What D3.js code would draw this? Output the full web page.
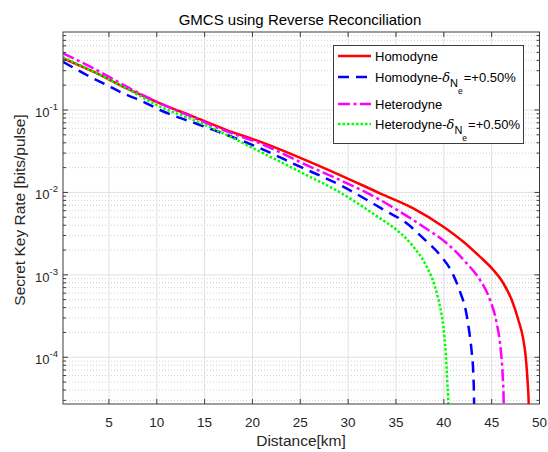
<!DOCTYPE html>
<html>
<head>
<meta charset="utf-8">
<script src="https://cdn.jsdelivr.net/npm/d3@7"></script>
<style>
  body { margin: 0; background: #fff; }
  svg { font-family: "Liberation Sans", Arial, sans-serif; }
</style>
</head>
<body>
<svg id="canvas" width="548" height="452"></svg>
<script>
// values (distance in km, key rate in bits/pulse)
var homoDist = [0.2, 3.37, 6.86, 10.34, 13.82, 17.31, 20.79, 25, 29.15, 33.33, 36.81, 39.95, 42.04, 43.77, 45.17, 46.22, 47.1, 47.79, 48.25, 48.56, 48.77, 48.87, 48.92];
var homoRate = [0.424, 0.292, 0.183, 0.1205, 0.083, 0.0571, 0.0413, 0.0263, 0.01626, 0.00975, 0.00641, 0.00384, 0.00252, 0.00166, 0.001146, 0.000791, 0.000495, 0.000283, 0.000178, 0.0001016, 0.0000483, 0.0000277, 0.00001];

var homoDDist = [0.2, 2.68, 4.77, 6.51, 8.6, 10.34, 14.52, 18.7, 20.44, 24.97, 29.15, 33.85, 36.12, 37.86, 39.6, 40.82, 41.69, 42.32, 42.66, 42.91, 43.08, 43.16, 43.2];
var homoDRate = [0.385, 0.266, 0.201, 0.159, 0.126, 0.1, 0.0658, 0.0433, 0.0359, 0.0205, 0.0123, 0.00603, 0.00422, 0.00277, 0.00174, 0.00109, 0.000625, 0.000357, 0.000204, 0.000117, 0.0000638, 0.0000303, 0.00001];

var hetDist = [0.2, 3.37, 6.86, 10.34, 13.82, 17.31, 20.79, 26.02, 29.15, 33.33, 35.42, 37.86, 40.3, 42.39, 43.78, 44.83, 45.53, 45.95, 46.16, 46.26, 46.3];
var hetRate = [0.488, 0.321, 0.192, 0.1205, 0.0813, 0.055, 0.0394, 0.0205, 0.01416, 0.00813, 0.00583, 0.00384, 0.00242, 0.00138, 0.000867, 0.000495, 0.000258, 0.0001225, 0.0000581, 0.0000277, 0.00001];

var hetDDist = [0.2, 3.37, 6.86, 10.34, 13.82, 17.31, 20.09, 24.97, 29.15, 33.33, 35.07, 36.81, 38.21, 39.08, 39.6, 39.95, 40.2, 40.37, 40.47, 40.52];
var hetDRate = [0.437, 0.292, 0.182, 0.1096, 0.0757, 0.0498, 0.0343, 0.01778, 0.01, 0.00485, 0.0035, 0.0022, 0.001256, 0.000718, 0.000411, 0.000235, 0.0001117, 0.0000483, 0.0000277, 0.00001];

var xTicks = [5, 10, 15, 20, 25, 30, 35, 40, 45, 50];
var yTicks = [-1, -2, -3, -4]; // exponents

var series = [
    {name: "Homodyne", sub: false, x: homoDist, y: homoRate, color: "#ff0000", dash: null},
    {name: "Homodyne-", sub: true, x: homoDDist, y: homoDRate, color: "#0000ff", dash: "11,7"},
    {name: "Heterodyne", sub: false, x: hetDist, y: hetRate, color: "#ff00ff", dash: "12,3.5,3,3.5"},
    {name: "Heterodyne-", sub: true, x: hetDDist, y: hetDRate, color: "#00ff00", dash: "2.5,2"}
];

var svg = d3.select("#canvas");
// plot box (note: "top" is taken by window.top, so prefixed names)
var pLeft = 63, pRight = 539.5, pTop = 32, pBottom = 404;

var x = d3.scaleLinear().domain([0.2, 50]).range([pLeft, pRight]);
var y = d3.scaleLog().domain([2.71e-5, 0.884]).range([pBottom, pTop]);

// grid
var minorY = [];
for (var e = -5; e <= 0; e++) {
    for (var m = 2; m <= 9; m++) {
        var v = m * Math.pow(10, e);
        if (v > y.domain()[0] && v < y.domain()[1]) minorY.push(v);
    }
}
svg.append("g").selectAll("line").data(minorY).enter().append("line")
    .attr("x1", pLeft).attr("x2", pRight)
    .attr("y1", d => y(d)).attr("y2", d => y(d))
    .attr("stroke", "#c4c4c4").attr("stroke-width", 0.8)
    .attr("stroke-dasharray", "1,2");
svg.append("g").selectAll("line").data(yTicks).enter().append("line")
    .attr("x1", pLeft).attr("x2", pRight)
    .attr("y1", d => y(Math.pow(10, d))).attr("y2", d => y(Math.pow(10, d)))
    .attr("stroke", "#e0e0e0").attr("stroke-width", 1);
svg.append("g").selectAll("line").data(xTicks.slice(0, -1)).enter().append("line")
    .attr("x1", d => x(d)).attr("x2", d => x(d))
    .attr("y1", pTop).attr("y2", pBottom)
    .attr("stroke", "#e0e0e0").attr("stroke-width", 1);

// curves
svg.append("clipPath").attr("id", "clip").append("rect")
    .attr("x", pLeft).attr("y", pTop).attr("width", pRight - pLeft).attr("height", pBottom - pTop);

var line = d3.line()
    .x(d => x(d[0]))
    .y(d => y(d[1]))
    .curve(d3.curveMonotoneX);

series.forEach(function (s) {
    var pts = s.x.map((d, i) => [d, s.y[i]]);
    svg.append("path")
        .attr("clip-path", "url(#clip)")
        .attr("d", line(pts))
        .attr("fill", "none")
        .attr("stroke", s.color)
        .attr("stroke-width", 2.5)
        .attr("stroke-dasharray", s.dash);
});

// axes box + ticks (inward, on all four sides)
var axisColor = "#3c3c3c";
svg.append("rect").attr("x", pLeft).attr("y", pTop)
    .attr("width", pRight - pLeft).attr("height", pBottom - pTop)
    .attr("fill", "none").attr("stroke", axisColor).attr("stroke-width", 1);

var ticks = svg.append("g").attr("stroke", axisColor).attr("stroke-width", 1);
xTicks.forEach(function (t) {
    ticks.append("line").attr("x1", x(t)).attr("x2", x(t)).attr("y1", pBottom).attr("y2", pBottom - 5);
    ticks.append("line").attr("x1", x(t)).attr("x2", x(t)).attr("y1", pTop).attr("y2", pTop + 5);
});
yTicks.forEach(function (t) {
    var yy = y(Math.pow(10, t));
    ticks.append("line").attr("x1", pLeft).attr("x2", pLeft + 5).attr("y1", yy).attr("y2", yy);
    ticks.append("line").attr("x1", pRight).attr("x2", pRight - 5).attr("y1", yy).attr("y2", yy);
});
minorY.forEach(function (v) {
    ticks.append("line").attr("x1", pLeft).attr("x2", pLeft + 3).attr("y1", y(v)).attr("y2", y(v));
    ticks.append("line").attr("x1", pRight).attr("x2", pRight - 3).attr("y1", y(v)).attr("y2", y(v));
});

// tick labels
svg.append("g").selectAll("text").data(xTicks).enter().append("text")
    .attr("x", d => x(d)).attr("y", 427)
    .attr("text-anchor", "middle")
    .attr("font-size", 13.5).attr("fill", "#262626")
    .text(d => d);

yTicks.forEach(function (t) {
    var lab = svg.append("text")
        .attr("x", 58).attr("y", y(Math.pow(10, t)) + 7)
        .attr("text-anchor", "end").attr("font-size", 13).attr("fill", "#262626");
    lab.append("tspan").text("10");
    lab.append("tspan").attr("dy", -7).attr("font-size", 9.5).text(t);
});

// labels
svg.append("text").attr("x", 301).attr("y", 446).attr("text-anchor", "middle")
    .attr("font-size", 15.5).attr("fill", "#262626").text("Distance[km]");
svg.append("text").attr("transform", "translate(25,210) rotate(-90)")
    .attr("text-anchor", "middle").attr("font-size", 15.5).attr("fill", "#262626")
    .text("Secret Key Rate [bits/pulse]");
svg.append("text").attr("x", 300).attr("y", 25).attr("text-anchor", "middle")
    .attr("font-size", 15).attr("fill", "#000").text("GMCS using Reverse Reconciliation");

// legend
var lg = svg.append("g");
lg.append("rect").attr("x", 333.5).attr("y", 45.5).attr("width", 190).attr("height", 98)
    .attr("fill", "#fff").attr("stroke", axisColor).attr("stroke-width", 1);
var rowY = [56, 77, 104, 124];
series.forEach(function (s, i) {
    lg.append("line").attr("x1", 338).attr("x2", 371)
        .attr("y1", rowY[i]).attr("y2", rowY[i])
        .attr("stroke", s.color).attr("stroke-width", 2.5)
        .attr("stroke-dasharray", s.dash);
    var t = lg.append("text").attr("x", 375).attr("y", rowY[i] + 5)
        .attr("font-size", 13).attr("fill", "#000");
    t.append("tspan").text(s.name);
    if (s.sub) {
        t.append("tspan").attr("font-family", "DejaVu Serif").attr("font-style", "italic").text("δ");
        t.append("tspan").attr("dy", 5).attr("font-size", 11).text("N");
        t.append("tspan").attr("dy", 7).attr("font-size", 8.5).text("e");
        t.append("tspan").attr("dy", -12).attr("dx", 1).text("=+0.50%");
    }
});
</script>
</body>
</html>
